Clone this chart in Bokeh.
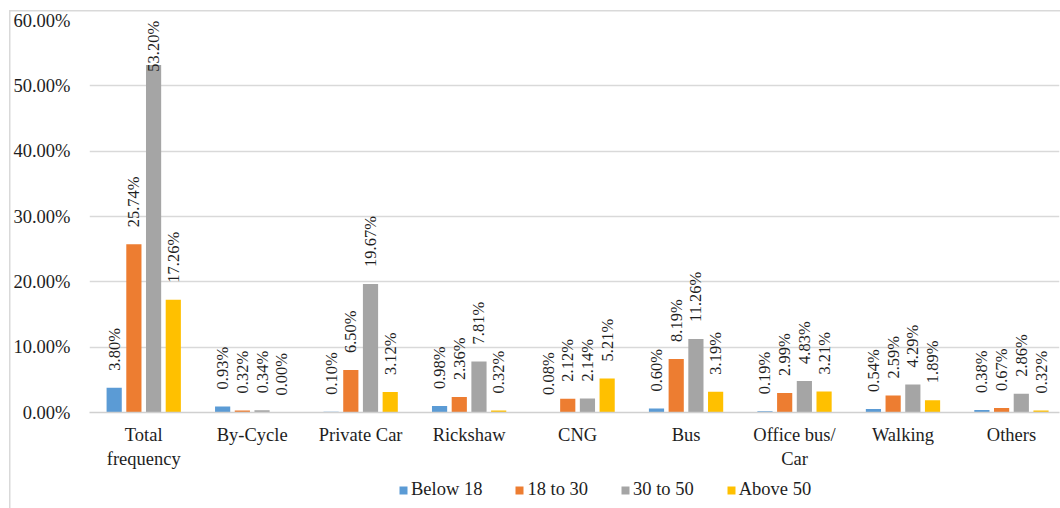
import numpy as np
from bokeh.plotting import figure
from bokeh.layouts import column
from bokeh.models import (Range1d, FixedTicker, PrintfTickFormatter, ColumnDataSource,
                          Legend, LegendItem)
from bokeh.core.properties import value
from bokeh.embed import file_html
from bokeh.resources import INLINE

categories = ["Total\nfrequency", "By-Cycle", "Private Car", "Rickshaw", "CNG", "Bus",
              "Office bus/\nCar", "Walking", "Others"]
series_names = ["Below 18", "18 to 30", "30 to 50", "Above 50"]
below_18 = [3.80, 0.93, 0.10, 0.98, 0.08, 0.60, 0.19, 0.54, 0.38]
age_18_30 = [25.74, 0.32, 6.50, 2.36, 2.12, 8.19, 2.99, 2.59, 0.67]
age_30_50 = [53.20, 0.34, 19.67, 7.81, 2.14, 11.26, 4.83, 4.29, 2.86]
above_50 = [17.26, 0.00, 3.12, 0.32, 5.21, 3.19, 3.21, 1.89, 0.32]
colors = ["#5B9BD5", "#ED7D31", "#A5A5A5", "#FFC000"]
y_ticks = [0, 10, 20, 30, 40, 50, 60]

FONT = "Liberation Serif"
TEXT = "#1e1e1e"
AX_FS = "18.5px"
LBL_PX = 16.5

p = figure(width=1051, height=462, output_backend="svg", toolbar_location=None,
           x_range=Range1d(-0.5, 8.443), y_range=Range1d(0, 60),
           min_border_left=80, min_border_right=1, min_border_top=10, min_border_bottom=60)
p.background_fill_color = "white"
p.border_fill_color = None
p.outline_line_color = None

offsets = [-0.2725, -0.0908, 0.0908, 0.2725]
bar_w = 0.14
idx = np.arange(len(categories))
all_series = [below_18, age_18_30, age_30_50, above_50]
px_per_unit = 392 / 60.0

label_x, label_y, label_t = [], [], []
for s, vals, col, off in zip(series_names, all_series, colors, offsets):
    vals = np.array(vals)
    src = ColumnDataSource(dict(x=idx + off, top=vals))
    p.vbar(x="x", top="top", width=bar_w, source=src, fill_color=col, line_color=None)
    label_x.extend(list(idx + off))
    # label sits ~17px above the bar, kept inside the plot area
    label_y.extend(list(np.minimum(vals + 17 / px_per_unit,
                                   60 - 3.1 * LBL_PX / px_per_unit)))
    label_t.extend([f"{v:.2f}%" for v in vals])

lsrc = ColumnDataSource(dict(x=label_x, y=label_y, t=label_t))
p.text(x="x", y="y", text="t", source=lsrc, angle=np.pi / 2, text_align="left",
       text_baseline="middle", text_font=value(FONT), text_font_size=f"{LBL_PX}px",
       text_color=TEXT)

# axes
p.xaxis.ticker = FixedTicker(ticks=list(idx))
p.xaxis.major_label_overrides = {int(i): c for i, c in zip(idx, categories)}
p.xaxis.axis_line_color = "#d0d0d0"
p.xaxis.axis_line_width = 1.5
p.xaxis.major_tick_line_color = None
p.xaxis.minor_tick_line_color = None
p.xaxis.major_label_text_font = FONT
p.xaxis.major_label_text_font_size = AX_FS
p.xaxis.major_label_text_color = TEXT
p.xaxis.major_label_standoff = 6

p.yaxis.ticker = FixedTicker(ticks=y_ticks)
p.yaxis.formatter = PrintfTickFormatter(format="%.2f%%")
p.yaxis.axis_line_color = None
p.yaxis.major_tick_line_color = None
p.yaxis.minor_tick_line_color = None
p.yaxis.major_label_text_font = FONT
p.yaxis.major_label_text_font_size = AX_FS
p.yaxis.major_label_text_color = TEXT
p.yaxis.major_label_standoff = 13

p.xgrid.grid_line_color = None
p.ygrid.grid_line_color = "#d9d9d9"
p.ygrid.grid_line_width = 1.5

# legend strip (separate small figure holding hidden legend proxies)
lg = figure(width=1051, height=36, output_backend="svg", toolbar_location=None,
            x_range=Range1d(0, 1), y_range=Range1d(0, 1),
            min_border_left=0, min_border_right=0, min_border_top=0, min_border_bottom=0)
lg.axis.visible = False
lg.grid.visible = False
lg.outline_line_color = None
lg.background_fill_color = None
lg.border_fill_color = None
items = []
for s, col in zip(series_names, colors):
    r = lg.vbar(x=[-5], top=[0], width=0.1, fill_color=col, line_color=None)
    items.append(LegendItem(label=s, renderers=[r]))
legend = Legend(items=items, orientation="horizontal", location=(309, 8))
legend.glyph_width = 10
legend.glyph_height = 10
legend.label_standoff = 3
legend.spacing = 32
legend.padding = 0
legend.margin = 0
legend.border_line_color = None
legend.background_fill_alpha = 0
legend.label_text_font = FONT
legend.label_text_font_size = AX_FS
legend.label_text_color = TEXT
lg.add_layout(legend)

layout = column(p, lg, spacing=0)
layout.margin = (10, 0, 0, 9)
layout.styles = {"box-shadow": "inset 1.5px 1.5px 0 0 #d9d9d9", "background": "white"}

open("out.html", "w").write(file_html(layout, INLINE))
